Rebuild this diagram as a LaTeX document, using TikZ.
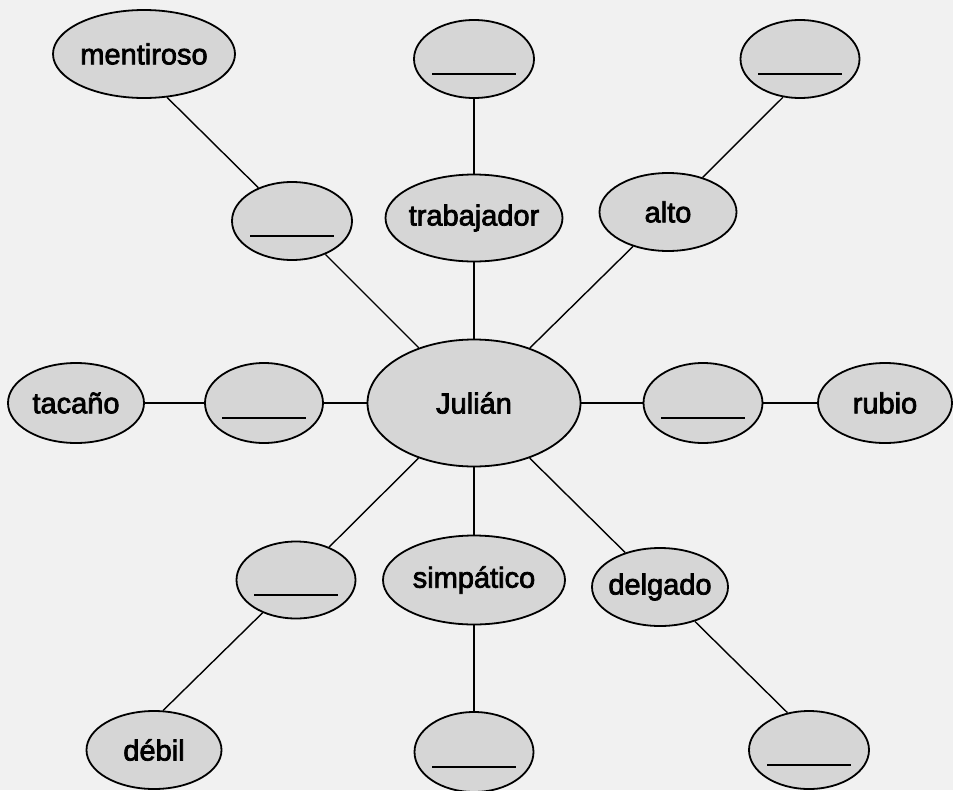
\documentclass[tikz,border=0pt]{standalone}
\usepackage{fontspec}
\usetikzlibrary{shapes.geometric}
\newfontfamily\lblfont{Liberation Sans}[FakeBold=2.5]
\definecolor{pagebg}{HTML}{F1F1F1}
\definecolor{ellfill}{HTML}{D6D6D6}
\tikzset{
  ell/.style 2 args={ellipse, draw=black, line width=1.8pt, fill=ellfill,
    inner sep=0pt, minimum width=#1, minimum height=#2,
    font=\lblfont\fontsize{29}{34}\selectfont},
  link/.style={draw=black, line width=1.4pt},
  blankline/.style={line width=1.5pt}
}
\newcommand{\lbltxt}[1]{\makebox[0pt]{#1}}
\begin{document}
\begin{tikzpicture}[x=1pt,y=-1pt]
\fill[pagebg] (0,0) rectangle (953,790);
\useasboundingbox (0,0) rectangle (953,790);
% nodes
\node[ell={182}{88}] (m)  at (144,54)  {\lbltxt{mentiroso}};
\node[ell={120}{78}] (t0) at (474,59)  {};
\node[ell={119}{78}] (tr) at (800,59)  {};
\node[ell={120}{78}] (l2) at (292,221) {};
\node[ell={177}{87}] (tj) at (474,218) {\lbltxt{trabajador}};
\node[ell={137}{78}] (al) at (668,212) {\lbltxt{alto}};
\node[ell={136}{80}] (tc) at (76,403)  {\lbltxt{tacaño}};
\node[ell={118}{80}] (ml) at (264,403) {};
\node[ell={213}{127}] (j) at (474,403) {\lbltxt{Julián}};
\node[ell={119}{80}] (mr) at (703,403) {};
\node[ell={134}{80}] (rb) at (885,403) {\lbltxt{rubio}};
\node[ell={119}{77}] (ll) at (296,580) {};
\node[ell={182}{89}] (sp) at (474,580) {\lbltxt{simpático}};
\node[ell={136}{78}] (dg) at (660,587) {\lbltxt{delgado}};
\node[ell={135}{78}] (db) at (154,750) {\lbltxt{débil}};
\node[ell={119}{80}] (bm) at (474,752) {};
\node[ell={120}{78}] (br) at (809,750) {};
% blanks
\foreach \n in {t0,tr,l2,ml,mr,ll,bm,br}
  \draw[blankline] ([xshift=-42pt,yshift=-15pt]\n.center) -- ([xshift=42pt,yshift=-15pt]\n.center);
% connectors
\draw[link] (l2) -- (m.-62);
\draw[link] (l2) -- (j);
\draw[link] (t0) -- (tj);
\draw[link] (tj) -- (j);
\draw[link] (al) -- (tr.-114);
\draw[link] (al) -- (j);
\draw[link] (tc) -- (ml);
\draw[link] (ml) -- (j);
\draw[link] (j) -- (mr);
\draw[link] (mr) -- (rb);
\draw[link] (j) -- (ll);
\draw[link] (ll) -- (db.77);
\draw[link] (j) -- (sp);
\draw[link] (sp) -- (bm);
\draw[link] (j) -- (dg);
\draw[link] (dg) -- (br.120);
\end{tikzpicture}
\end{document}
